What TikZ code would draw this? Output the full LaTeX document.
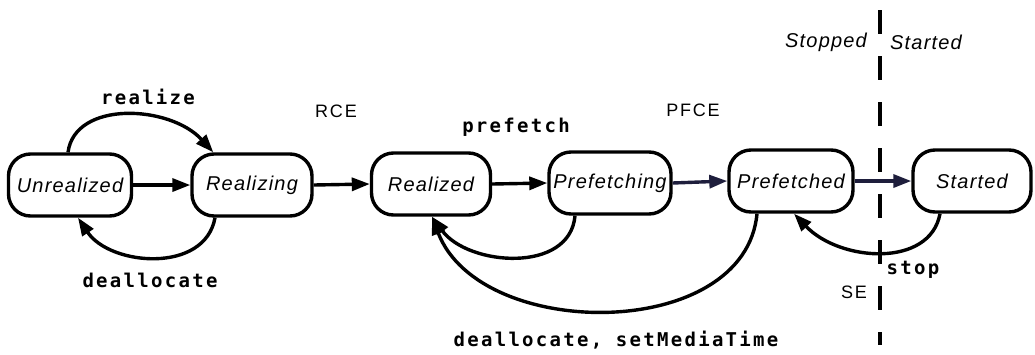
\documentclass[tikz,border=0pt]{standalone}
\usepackage{fontspec}
\setmainfont{Liberation Sans}
\newfontfamily\statefont[LetterSpace=6]{Liberation Sans}
\newfontfamily\lblfont[LetterSpace=12]{DejaVu Sans Mono}
\newfontfamily\evfont[LetterSpace=10]{Liberation Sans}
\usetikzlibrary{arrows.meta,calc}
\definecolor{navyline}{RGB}{30,30,60}
\begin{document}
\begin{tikzpicture}[x=1pt,y=-1pt,
  state/.style={draw, line width=3.4pt, rounded corners=22pt, minimum height=62pt,
    inner sep=0pt, font=\statefont\itshape\fontsize{20}{24}\selectfont},
  trans/.style={line width=3.4pt, -{Triangle[length=18pt,width=13pt]}},
  lbl/.style={inner sep=0pt, font=\lblfont\bfseries\fontsize{19}{22}\selectfont},
  ev/.style={inner sep=0pt, font=\evfont\fontsize{18}{22}\selectfont},
  side/.style={inner sep=0pt, font=\statefont\itshape\fontsize{20}{24}\selectfont},
  divider/.style={line width=3.4pt, dash pattern=on 24pt off 22pt}]
\useasboundingbox (0,0) rectangle (1035,354);
\fill[white] (0,0) rectangle (1035,354);

% divider
\coordinate (dtop) at (880,10);
\coordinate (dbot) at (880,345);
\draw[divider] (dtop) -- (dbot);

% states
\node[state, minimum width=123pt] (U)  at (70,185)  {Unrealized};
\node[state, minimum width=120pt] (Rg) at (252,185) {Realizing};
\node[state, minimum width=119pt] (Rd) at (431,184) {Realized};
\node[state, minimum width=122pt] (Pg) at (610,183) {Prefetching};
\node[state, minimum width=124pt] (Pd) at (791,181) {Prefetched};
\node[state, minimum width=118pt] (St) at (972,181) {Started};

% straight transitions
\draw[trans] (U.east) -- (Rg.west);
\draw[trans] (Rg.east) -- (Rd.west);
\draw[trans] (Rd.east) -- (Pg.west);
\draw[trans, draw=navyline, fill=navyline] (Pg.east) -- (Pd.west);
\draw[trans, draw=navyline, fill=navyline] (Pd.east) -- (St.west);

% curved transitions
\draw[trans] ([xshift=-2pt]U.north) .. controls (75,100) and (170,105) .. ([xshift=23pt]Rg.north west);
\draw[trans] ([xshift=-37pt]Rg.south) .. controls (205,274) and (110,266) .. ([xshift=8pt]U.south);
\draw[trans] ([xshift=-35pt]Pg.south) .. controls (570,274) and (468,266) .. ([xshift=1pt]Rd.south);
\draw[trans] ([xshift=-34pt]Pd.south) .. controls (745,342) and (480,342) .. ([xshift=1pt]Rd.south);
\draw[trans] ([xshift=-32pt]St.south) .. controls (930,268) and (840,262) .. ([xshift=3pt]Pd.south);

% labels
\node[lbl] (lrealize) at (148,97) {realize};
\node[lbl] (ldeal) at (150,280) {deallocate};
\node[lbl] (lpref) at (516,127) {prefetch};
\node[lbl] (ldeal2) at (616,340) {deallocate, setMediaTime};
\node[lbl] (lstop) at (913,270) {stop};
\node[ev] (rce) at (336,111) {RCE};
\node[ev] (pfce) at (693,110) {PFCE};
\node[ev] (se) at (854,292) {SE};
\node[side] (stopped) at (826,42) {Stopped};
\node[side] (started) at (926,42) {Started};
\end{tikzpicture}
\end{document}
